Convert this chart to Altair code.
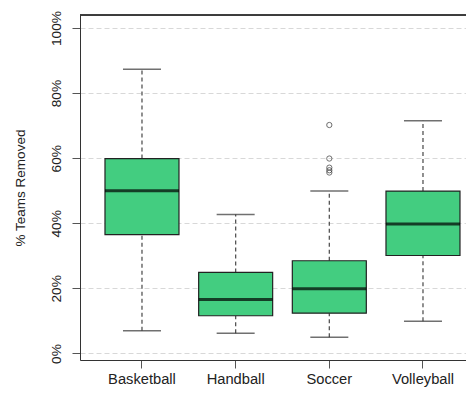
import altair as alt
import pandas as pd

sports = ["Basketball", "Handball", "Soccer", "Volleyball"]
lower = [7.0, 6.2, 5.0, 9.9]
q1 = [36.5, 11.6, 12.4, 30.1]
median = [50.0, 16.6, 19.9, 39.8]
q3 = [59.9, 24.9, 28.5, 49.9]
upper = [87.3, 42.7, 49.9, 71.5]

outlier_sport = ["Soccer", "Soccer", "Soccer", "Soccer", "Soccer"]
outlier_value = [70.2, 59.9, 57.1, 56.3, 55.6]

y_ticks = [0, 10, 20, 30, 40, 50, 60, 70, 80, 90, 100]

stats = pd.DataFrame({"sport": sports, "lower": lower, "q1": q1,
                      "median": median, "q3": q3, "upper": upper})
outl = pd.DataFrame({"sport": outlier_sport, "value": outlier_value})

W, H = 386, 345

xscale = alt.Scale(domain=sports, paddingInner=0.21, paddingOuter=0.1655, align=0.806)
yscale = alt.Scale(domain=[-2, 104], nice=False, zero=False)

xax = alt.Axis(title=None, labelAngle=0, labelFontSize=14.7, labelFont="Liberation Sans",
               labelColor="#222", tickSize=8, tickColor="#555", domainColor="#333",
               labelPadding=3, grid=False)
yax = alt.Axis(title="% Teams Removed", values=y_ticks,
               labelExpr="datum.value % 20 == 0 ? datum.value + '%' : ''",
               labelAngle=-90, labelAlign="center", labelBaseline="alphabetic",
               labelFontSize=13.7, labelFont="Liberation Sans", labelColor="#222",
               labelPadding=12, tickSize=8, tickColor="#555", domainColor="#333",
               grid=True, gridDash=[5, 3], gridColor="#d8d8d8", gridWidth=1,
               titleFont="Liberation Sans", titleFontSize=13.5, titleFontWeight="normal",
               titleColor="#222", titleX=-56, titleY=H / 2, titleAngle=270,
               titleAlign="center", titleBaseline="alphabetic")

base = alt.Chart(stats)

whisk_up = base.mark_rule(color="#555", strokeDash=[4, 3], strokeWidth=1.3).encode(
    x=alt.X("sport:N", scale=xscale, axis=xax, sort=sports),
    y=alt.Y("q3:Q", scale=yscale, axis=yax),
    y2="upper:Q")
whisk_lo = base.mark_rule(color="#555", strokeDash=[4, 3], strokeWidth=1.3).encode(
    x=alt.X("sport:N", scale=xscale, sort=sports),
    y=alt.Y("lower:Q", scale=yscale),
    y2="q1:Q")
cap_up = base.mark_tick(color="#333", size=38, thickness=1.5).encode(
    x=alt.X("sport:N", scale=xscale, sort=sports),
    y=alt.Y("upper:Q", scale=yscale))
cap_lo = base.mark_tick(color="#333", size=38, thickness=1.5).encode(
    x=alt.X("sport:N", scale=xscale, sort=sports),
    y=alt.Y("lower:Q", scale=yscale))
box = base.mark_bar(color="#43CD80", stroke="#222", strokeWidth=1.2).encode(
    x=alt.X("sport:N", scale=xscale, sort=sports),
    y=alt.Y("q1:Q", scale=yscale),
    y2="q3:Q")
med = base.mark_tick(color="#000", size=74, thickness=3).encode(
    x=alt.X("sport:N", scale=xscale, sort=sports),
    y=alt.Y("median:Q", scale=yscale))
pts = alt.Chart(outl).mark_point(shape="circle", filled=False, color="#333",
                                  size=28, strokeWidth=1).encode(
    x=alt.X("sport:N", scale=xscale, sort=sports),
    y=alt.Y("value:Q", scale=yscale))
top = alt.Chart(stats).mark_rule(color="#333", strokeWidth=1).encode(
    x=alt.value(0), x2=alt.value(W), y=alt.value(0))

chart = alt.layer(whisk_up, whisk_lo, cap_up, cap_lo, box, med, pts, top).properties(
    width=W, height=H,
    autosize=alt.AutoSizeParams(type="none"),
    padding={"left": 72, "top": 7, "right": 0, "bottom": 28},
).configure_view(stroke=None).configure(background="white")

chart.save("out.html", embed_options={"renderer": "svg", "actions": False})
